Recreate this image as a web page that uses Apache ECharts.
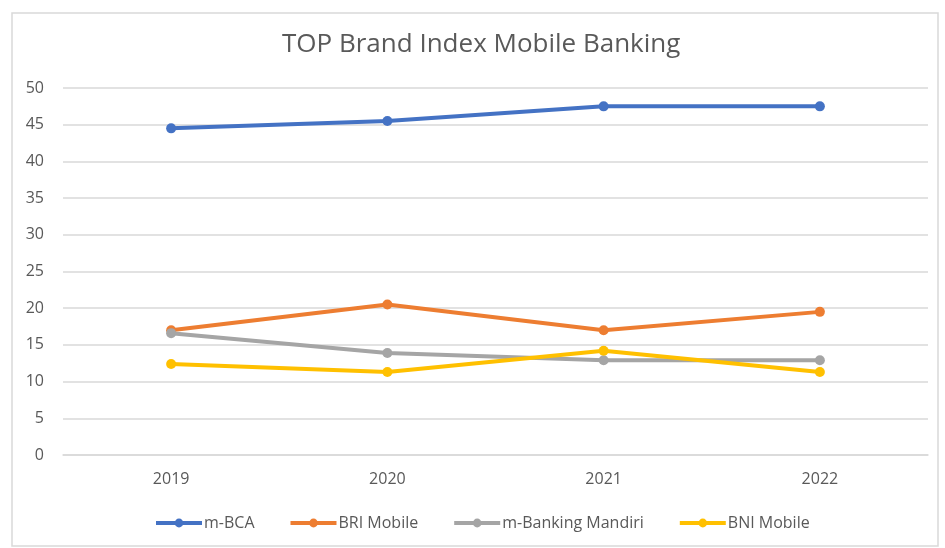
<!DOCTYPE html>
<html>
<head>
<meta charset="utf-8">
<script src="https://cdn.jsdelivr.net/npm/echarts@6/dist/echarts.min.js"></script>
<style>html,body{margin:0;padding:0;background:#fff}#c{width:945px;height:548px}</style>
</head>
<body>
<div id="c"></div>
<script>
var categories = ['2019', '2020', '2021', '2022'];
var seriesNames = ['m-BCA', 'BRI Mobile', 'm-Banking Mandiri', 'BNI Mobile'];
var mBCA = [44.5, 45.5, 47.5, 47.5];
var briMobile = [17, 20.5, 17, 19.5];
var mandiri = [16.6, 13.9, 12.9, 12.9];
var bniMobile = [12.4, 11.3, 14.2, 11.3];
var colors = ['#4472C4', '#ED7D31', '#A5A5A5', '#FFC000'];
var yTicks = {min: 0, max: 50, interval: 5};

var dataSets = [mBCA, briMobile, mandiri, bniMobile];
var font = '"Open Sans", "Noto Sans", sans-serif';
var chart = echarts.init(document.getElementById('c'), null, {renderer: 'canvas'});
chart.setOption({
  backgroundColor: '#fff',
  animation: false,
  color: colors,
  title: {
    text: 'TOP Brand Index Mobile Banking',
    left: 277,
    top: 27,
    textStyle: {fontFamily: font, fontSize: 26, fontWeight: 'normal', color: '#595959'}
  },
  graphic: [{
    type: 'rect',
    shape: {x: 12, y: 13, width: 926, height: 533},
    style: {fill: 'none', stroke: '#d9d9d9', lineWidth: 1.5},
    silent: true
  }],
  legend: {
    data: seriesNames,
    left: 149,
    top: 510,
    itemWidth: 46,
    itemHeight: 11,
    itemGap: 34,
    lineStyle: {width: 4},
    textStyle: {fontFamily: font, fontSize: 16, color: '#595959', padding: [0, 0, 0, -3]}
  },
  grid: {left: 63, right: 17, top: 88, bottom: 93},
  xAxis: {
    type: 'category',
    data: categories,
    boundaryGap: true,
    axisLine: {show: true, lineStyle: {color: '#d9d9d9', width: 1.5}},
    axisTick: {show: false},
    axisLabel: {fontFamily: font, fontSize: 16, color: '#595959', margin: 16}
  },
  yAxis: {
    type: 'value',
    min: yTicks.min,
    max: yTicks.max,
    interval: yTicks.interval,
    axisLine: {show: false},
    axisTick: {show: false},
    splitLine: {lineStyle: {color: '#d9d9d9', width: 1.5}},
    axisLabel: {fontFamily: font, fontSize: 16, color: '#595959', margin: 19}
  },
  series: dataSets.map(function (d, i) {
    return {
      name: seriesNames[i],
      type: 'line',
      data: d,
      symbol: 'circle',
      symbolSize: 10,
      lineStyle: {width: 4, color: colors[i]},
      itemStyle: {color: colors[i]}
    };
  })
});
</script>
</body>
</html>
